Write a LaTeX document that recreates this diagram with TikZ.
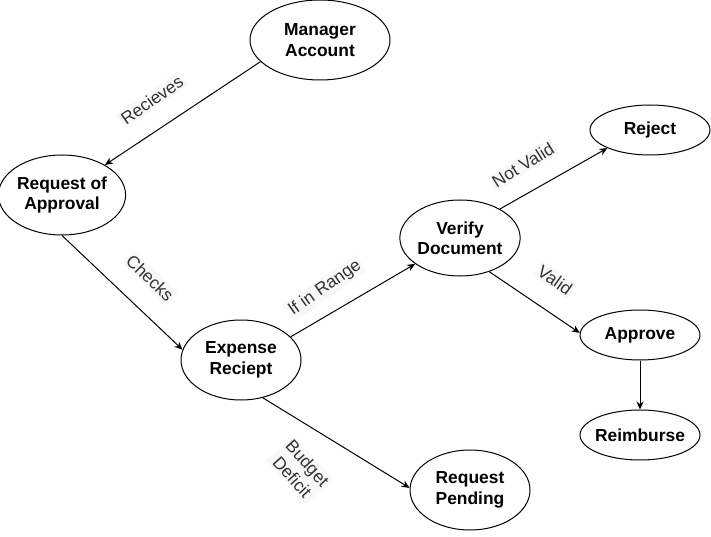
\documentclass[tikz,border=0pt]{standalone}
\usepackage{fontspec}
\setmainfont{Liberation Sans}
\usetikzlibrary{shapes,arrows.meta}
\definecolor{lblgray}{RGB}{51,51,51}
\definecolor{lblback}{RGB}{248,248,248}

\begin{document}
\begin{tikzpicture}
  [x=1pt,y=-1pt,
   stateN/.style={ellipse,draw,line width=1pt,inner sep=0pt,
     minimum width=120pt,minimum height=80pt,align=center,
     font=\fontsize{17.4}{20.4}\selectfont\bfseries},
   smallN/.style={stateN,inner xsep=-3pt,minimum height=50pt},
   edgeL/.style={font=\fontsize{17.4}{20.4}\selectfont,text=lblgray,
     fill=lblback,inner sep=2pt,align=center},
   arr/.style={-{Stealth[length=8pt,width=7pt]},line width=1pt}]

  \useasboundingbox (0,0) rectangle (711,537);

  \node[stateN,minimum width=140pt] (m) at (320,40) {Manager\\Account};
  \node[stateN] (r) at (62,195) {Request of\\Approval};
  \node[stateN] (e) at (241,360) {Expense\\Reciept};
  \node[stateN,minimum height=76pt] (v) at (460,238) {Verify\\Document};
  \node[smallN] (rj) at (650,130) {Reject};
  \node[smallN] (ap) at (640,335) {Approve};
  \node[smallN] (rb) at (640,435) {Reimburse};
  \node[stateN] (rp) at (470,490) {Request\\Pending};

  \draw[arr] (m.200) -- (r.35);
  \draw[arr] (r.270) -- (e.170);
  \draw[arr] (e.25) -- (v.210);
  \draw[arr] (v.36) -- (rj.203);
  \draw[arr] (v.311) -- (ap.178);
  \draw[arr] (ap.south) -- (rb.north);
  \draw[arr] (e.300) -- (rp.178);

  \node[edgeL,rotate=35] (lrec) at (152,100) {Recieves};
  \node[edgeL,rotate=-44] (lchk) at (150,278) {Checks};
  \node[edgeL,rotate=35] (lrng) at (325,288) {If in Range};
  \node[edgeL,rotate=32] (lnv) at (523,165) {Not Valid};
  \node[edgeL,rotate=-35] (lval) at (555,280) {Valid};
  \node[edgeL,rotate=-48] (lbud) at (300,470) {Budget\\Deficit};

\end{tikzpicture}
\end{document}
